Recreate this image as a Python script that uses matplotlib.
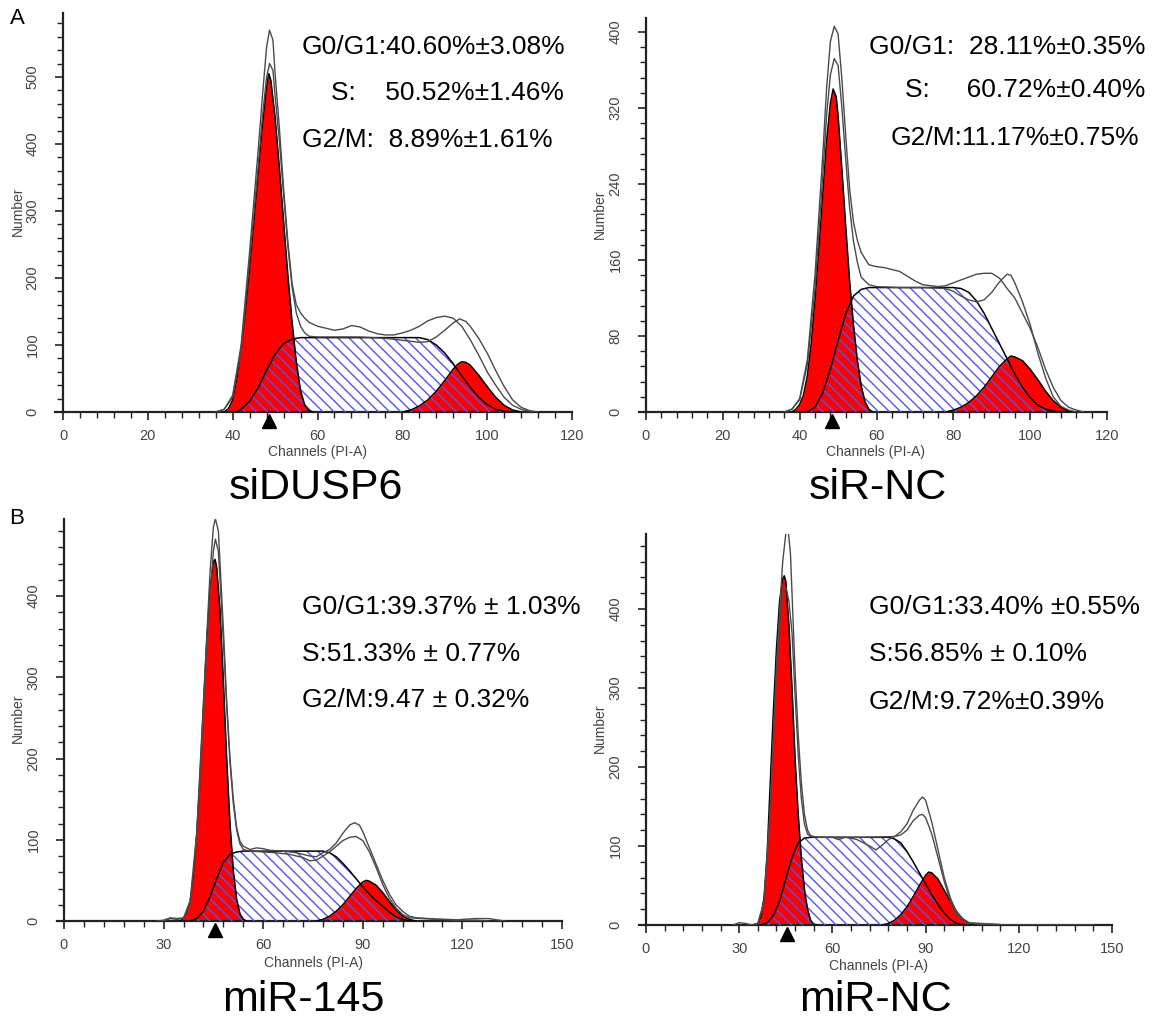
import numpy as np
import matplotlib.pyplot as plt
from matplotlib.ticker import MultipleLocator, FixedLocator
from matplotlib.transforms import offset_copy

plt.rcParams['font.family'] = ['Liberation Sans', 'DejaVu Sans']
plt.rcParams['hatch.linewidth'] = 1.0

W, H = 1153, 1029
RED = '#ff0000'
BLUE = '#5555ee'
GRAY = '#4a4a4a'

# ---- A, left: siDUSP6 (channel, number) ----
sidusp6_g1 = [(38, 0), (39, 5), (40, 18), (41, 50), (42, 95), (43, 150), (44, 215), (45, 285),
              (46, 355), (47, 425), (48, 485), (48.5, 505), (49, 495), (50, 440), (51, 365),
              (52, 285), (53, 205), (54, 135), (55, 75), (56, 32), (57, 10), (58, 2), (59, 0)]
sidusp6_s = [(41, 0), (42, 4), (44, 16), (46, 36), (48, 62), (50, 86), (52, 102), (54, 109),
             (56, 111), (84, 111), (86, 108), (88, 100), (90, 88), (92, 72), (94, 54), (96, 37),
             (98, 22), (100, 11), (102, 4), (104, 1), (106, 0)]
sidusp6_g2 = [(80, 0), (82, 3), (84, 9), (86, 18), (88, 31), (90, 47), (92, 64), (93, 71), (94, 75),
              (95, 74), (96, 70), (98, 55), (100, 38), (102, 22), (104, 10), (106, 3), (108, 0)]
sidusp6_raw1 = [(36, 0), (38, 4), (40, 25), (42, 100), (44, 240), (46, 390), (47, 470), (48, 545),
                (48.7, 570), (49.5, 555), (50, 505), (51, 425), (52, 335), (53, 255), (54, 192),
                (55, 160), (56, 148), (57, 140), (58, 134), (60, 128), (62, 125), (64, 122),
                (66, 124), (68, 129), (70, 127), (72, 121), (74, 117), (76, 115), (78, 115),
                (80, 118), (82, 122), (84, 128), (86, 136), (88, 141), (90, 143), (92, 140),
                (94, 128), (96, 108), (98, 85), (100, 60), (102, 40), (104, 22), (106, 10),
                (108, 4), (110, 1), (112, 0)]
sidusp6_raw2 = [(36, 0), (38, 4), (40, 22), (42, 92), (44, 225), (46, 365), (47, 440), (48, 500),
                (48.7, 520), (49.5, 510), (50, 472), (51, 405), (52, 325), (53, 248), (54, 187),
                (55, 148), (56, 128), (57, 118), (58, 113), (60, 112), (70, 112), (76, 110),
                (80, 107), (84, 104), (86, 105), (88, 112), (90, 122), (92, 133), (93.5, 139),
                (95, 135), (96, 128), (98, 110), (100, 88), (102, 62), (104, 38), (106, 18),
                (108, 7), (110, 2), (112, 0)]

# ---- A, right: siR-NC ----
sirnc_g1 = [(38, 0), (39, 3), (40, 8), (41, 18), (42, 38), (43, 72), (44, 118), (45, 172),
            (46, 228), (47, 285), (48, 325), (48.7, 340), (49.5, 332), (50, 312), (51, 255),
            (52, 195), (53, 138), (54, 92), (55, 55), (56, 28), (57, 11), (58, 3), (59, 0)]
sirnc_s = [(42, 0), (44, 5), (46, 20), (48, 45), (50, 75), (52, 103), (54, 122), (56, 129),
           (58, 131), (80, 131), (82, 130), (84, 126), (86, 117), (88, 104), (90, 88), (92, 72),
           (94, 56), (96, 40), (98, 26), (100, 15), (102, 7), (104, 3), (106, 1), (108, 0)]
sirnc_g2 = [(78, 0), (80, 2), (82, 5), (84, 10), (86, 17), (88, 26), (90, 37), (92, 48), (94, 56),
            (95, 59), (96, 58), (98, 54), (100, 45), (102, 34), (104, 22), (106, 12), (108, 5),
            (110, 1), (112, 0)]
sirnc_raw1 = [(36, 0), (38, 3), (40, 14), (42, 55), (44, 145), (46, 270), (47, 340), (48, 390),
              (49, 406), (50, 398), (51, 350), (52, 290), (53, 235), (54, 200), (55, 181),
              (56, 168), (58, 155), (60, 153), (62, 152), (66, 148), (68, 143), (70, 138),
              (72, 134), (76, 132), (78, 133), (80, 136), (82, 139), (84, 142), (86, 145),
              (88, 146), (90, 146), (92, 141), (94, 130), (96, 120), (98, 104), (100, 88),
              (102, 68), (104, 45), (106, 26), (108, 12), (110, 5), (112, 2), (114, 0)]
sirnc_raw2 = [(36, 0), (38, 3), (40, 13), (42, 50), (44, 130), (46, 248), (47, 312), (48, 355),
              (49, 372), (50, 365), (51, 320), (52, 265), (53, 215), (54, 180), (55, 158),
              (56, 142), (58, 134), (60, 132), (66, 131), (72, 131), (78, 130), (80, 127),
              (82, 122), (84, 118), (86, 116), (88, 118), (90, 126), (92, 137), (94, 145),
              (95, 144), (96, 136), (98, 116), (100, 92), (102, 62), (104, 36), (106, 16),
              (108, 6), (110, 2), (112, 0)]

# ---- B, left: miR-145 ----
mir145_g1 = [(35, 0), (36, 3), (37, 10), (38, 24), (39, 55), (40, 108), (41, 180), (42, 262),
             (43, 345), (44, 410), (45, 442), (45.5, 445), (46, 435), (47, 382), (48, 295),
             (49, 200), (50, 120), (51, 62), (52, 27), (53, 9), (54, 2), (55, 0)]
mir145_s = [(38, 0), (40, 3), (42, 12), (44, 30), (46, 52), (48, 72), (50, 82), (52, 85), (54, 86),
            (78, 86), (80, 84), (82, 79), (84, 71), (86, 62), (88, 52), (90, 42), (92, 33),
            (94, 25), (96, 18), (98, 11), (100, 5), (102, 2), (104, 0)]
mir145_g2 = [(76, 0), (78, 2), (80, 6), (82, 12), (84, 20), (86, 30), (88, 40), (90, 48), (91, 50),
             (92, 49), (94, 44), (96, 35), (98, 24), (100, 14), (102, 6), (104, 2), (106, 0)]
mir145_raw1 = [(28, 0), (30, 1), (32, 4), (34, 3), (36, 4), (38, 25), (40, 110), (42, 270),
               (44, 430), (45, 485), (45.6, 495), (46.5, 480), (47, 440), (48, 360), (49, 270),
               (50, 200), (51, 150), (52, 115), (53, 98), (54, 92), (56, 88), (58, 90), (60, 89),
               (62, 87), (66, 86), (70, 84), (74, 80), (76, 79), (78, 84), (80, 88), (82, 96),
               (84, 108), (86, 118), (87.5, 121), (89, 118), (90, 110), (92, 90), (94, 70),
               (96, 50), (98, 33), (100, 20), (102, 12), (104, 6), (106, 4), (110, 3), (114, 2),
               (118, 1), (120, 2), (124, 3), (128, 3), (131, 1), (133, 0)]
mir145_raw2 = [(30, 0), (32, 3), (34, 2), (36, 3), (38, 20), (40, 100), (42, 250), (44, 400),
               (45, 455), (45.6, 470), (46.5, 455), (47, 420), (48, 345), (49, 265), (50, 195),
               (51, 145), (52, 112), (53, 95), (54, 88), (56, 86), (60, 85), (64, 84), (68, 82),
               (72, 78), (74, 74), (76, 75), (78, 80), (80, 85), (82, 92), (84, 99), (86, 103),
               (88, 104), (90, 99), (92, 85), (94, 66), (96, 45), (98, 28), (100, 16), (102, 8),
               (104, 4), (108, 3), (112, 2), (116, 2), (120, 1), (124, 1), (128, 0)]

# ---- B, right: miR-NC ----
mirnc_g1 = [(35, 0), (36, 2), (37, 10), (38, 35), (39, 90), (40, 180), (41, 270), (42, 350),
            (43, 410), (44, 438), (44.5, 442), (45, 435), (46, 380), (47, 300), (48, 210),
            (49, 140), (50, 85), (51, 45), (52, 20), (53, 6), (54, 1), (55, 0)]
mirnc_s = [(37, 0), (39, 3), (41, 12), (43, 30), (45, 58), (47, 85), (49, 104), (51, 110),
           (53, 111), (78, 111), (80, 109), (82, 104), (84, 93), (86, 80), (88, 66), (90, 52),
           (92, 38), (94, 26), (96, 15), (98, 7), (100, 2), (102, 0)]
mirnc_g2 = [(76, 0), (78, 2), (80, 6), (82, 13), (84, 23), (86, 36), (88, 50), (90, 63), (91, 67),
            (92, 66), (94, 58), (96, 44), (98, 30), (100, 17), (102, 7), (104, 2), (106, 0)]
mirnc_raw1 = [(28, 0), (30, 3), (32, 2), (34, 0), (36, 2), (38, 30), (40, 150), (42, 330),
              (44, 460), (45, 495), (45.8, 498), (46.5, 470), (47, 420), (48, 320), (49, 240),
              (50, 180), (51, 140), (52, 120), (53, 113), (54, 112), (56, 111), (60, 111),
              (62, 108), (64, 111), (66, 110), (68, 108), (70, 104), (72, 100), (74, 95),
              (76, 101), (78, 108), (80, 112), (82, 118), (84, 128), (86, 145), (88, 158),
              (89, 162), (90, 158), (92, 130), (94, 95), (96, 60), (98, 34), (100, 16), (102, 8),
              (104, 3), (108, 2), (112, 1), (116, 0), (144, 0)]
mirnc_raw2 = [(34, 0), (36, 2), (38, 28), (40, 140), (42, 310), (44, 420), (45, 428), (46, 410),
              (47, 370), (48, 290), (49, 215), (50, 160), (51, 128), (52, 115), (53, 112),
              (56, 111), (60, 111), (70, 111), (80, 112), (82, 114), (84, 120), (86, 132),
              (88, 139), (89, 140), (90, 136), (92, 115), (94, 85), (96, 55), (98, 30), (100, 14),
              (102, 6), (104, 2), (108, 1), (112, 1), (116, 0), (144, 0)]

# ---- annotation text ----
sidusp6_text = ['G0/G1:40.60%±3.08%', 'S:    50.52%±1.46%', 'G2/M:  8.89%±1.61%']
sirnc_text = ['G0/G1:  28.11%±0.35%', 'S:     60.72%±0.40%', 'G2/M:11.17%±0.75%']
mir145_text = ['G0/G1:39.37% ± 1.03%', 'S:51.33% ± 0.77%', 'G2/M:9.47 ± 0.32%']
mirnc_text = ['G0/G1:33.40% ±0.55%', 'S:56.85% ± 0.10%', 'G2/M:9.72%±0.39%']

fig = plt.figure(figsize=(W / 100, H / 100), dpi=100)


def px_axes(x0, x1, y0, ytop):
    # axes placed in pixel coords of the reference image
    return fig.add_axes([x0 / W, 1 - y0 / H, (x1 - x0) / W, (y0 - ytop) / H])


def draw_panel(ax, g1, s, g2, raws, xmax, xmaj, xmin, ymax, ymaj_list, ymin, marker_ch):
    g1, s, g2 = np.array(g1, float), np.array(s, float), np.array(g2, float)
    ax.fill_between(g1[:, 0], g1[:, 1], color=RED, lw=0, zorder=2)
    ax.fill_between(g2[:, 0], g2[:, 1], color=RED, lw=0, zorder=2)
    ax.fill_between(s[:, 0], s[:, 1], facecolor='none', edgecolor=BLUE, hatch='\\\\\\', lw=0, zorder=3)
    for arr in (g1, s, g2):
        ax.plot(arr[:, 0], arr[:, 1], color='black', lw=1.1, zorder=4)
    for r in raws:
        r = np.array(r, float)
        ax.plot(r[:, 0], r[:, 1], color=GRAY, lw=1.0, zorder=5)

    ax.set_xlim(0, xmax)
    ax.set_ylim(0, ymax)
    for sp in ('top', 'right'):
        ax.spines[sp].set_visible(False)
    for sp in ('left', 'bottom'):
        ax.spines[sp].set_linewidth(1.6)
        ax.spines[sp].set_color('#222222')
    ax.xaxis.set_major_locator(MultipleLocator(xmaj))
    ax.xaxis.set_minor_locator(MultipleLocator(xmin))
    ax.yaxis.set_major_locator(FixedLocator(ymaj_list))
    ax.yaxis.set_minor_locator(MultipleLocator(ymin))
    ax.tick_params(axis='both', which='major', length=6, width=1.2, color='#222222',
                   labelsize=10.5, labelcolor='#444444')
    ax.tick_params(axis='both', which='minor', length=4, width=1.0, color='#222222')
    ax.tick_params(axis='y', which='major', pad=11, labelrotation=90)
    ax.tick_params(axis='x', which='major', pad=6)
    for lab in ax.get_yticklabels():
        lab.set_verticalalignment('center')
    # extend baseline to the left of 0, as in the reference
    ax.plot([-xmax * 0.015, 0], [0, 0], color='#222222', lw=1.6, clip_on=False, zorder=6)
    tr = offset_copy(ax.transData, fig=fig, x=0, y=-9, units='dots')
    ax.plot([marker_ch], [0], marker='^', ms=9.5, color='black', transform=tr, clip_on=False)


def px_text(x, y, s, **kw):
    fig.text(x / W, 1 - y / H, s, **kw)


# panel A left
ax1 = px_axes(63, 572, 412, 412 - 595 * 0.67)
draw_panel(ax1, sidusp6_g1, sidusp6_s, sidusp6_g2, [sidusp6_raw1, sidusp6_raw2],
           120, 20, 4, 595, [0, 100, 200, 300, 400, 500], 20, 48.5)
# panel A right
ax2 = px_axes(646, 1107, 412, 412 - 415 * 0.95)
draw_panel(ax2, sirnc_g1, sirnc_s, sirnc_g2, [sirnc_raw1, sirnc_raw2],
           120, 20, 4, 415, [0, 80, 160, 240, 320, 400], 16, 48.5)
# panel B left
ax3 = px_axes(64, 562, 921, 921 - 495 * 0.8125)
draw_panel(ax3, mir145_g1, mir145_s, mir145_g2, [mir145_raw1, mir145_raw2],
           150, 30, 6, 495, [0, 100, 200, 300, 400], 20, 45.5)
# panel B right
ax4 = px_axes(646, 1112, 925, 925 - 495 * 0.79)
draw_panel(ax4, mirnc_g1, mirnc_s, mirnc_g2, [mirnc_raw1, mirnc_raw2],
           150, 30, 6, 495, [0, 100, 200, 300, 400], 20, 45.5)

# axis titles
small = dict(fontsize=10, color='#444444', ha='center', va='center')
for (xc, yc) in [(18, 211), (600, 214), (18, 718), (600, 728)]:
    px_text(xc, yc, 'Number', rotation=90, **small)
for (xc, yc) in [(318, 452), (876, 452), (313, 963), (879, 966)]:
    px_text(xc, yc, 'Channels (PI-A)', **small)

# stats annotations
big = dict(fontsize=19, color='black', va='center', ha='left')
for (xs, ys, lines) in [([302, 331, 302], [47, 93, 140], sidusp6_text),
                        ([869, 905, 891], [47, 90, 138], sirnc_text),
                        ([302, 302, 302], [607, 654, 700], mir145_text),
                        ([869, 869, 869], [607, 654, 702], mirnc_text)]:
    for xx, yy, t in zip(xs, ys, lines):
        px_text(xx, yy, t, **big)

# group labels
lab = dict(fontsize=31, color='black', ha='center', va='center')
px_text(316, 488, 'siDUSP6', **lab)
px_text(878, 488, 'siR-NC', **lab)
px_text(303, 1000, 'miR-145', **lab)
px_text(875, 1000, 'miR-NC', **lab)
px_text(17, 19, 'A', fontsize=16, ha='center', va='center')
px_text(17, 519, 'B', fontsize=16, ha='center', va='center')

fig.savefig('out.png', dpi=100)
